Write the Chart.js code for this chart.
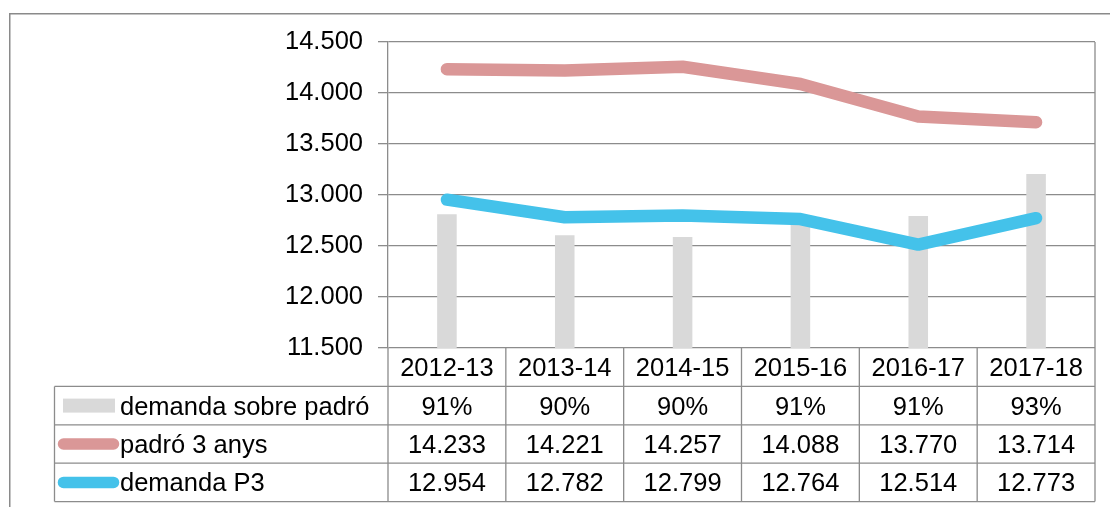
<!DOCTYPE html>
<html>
<head>
<meta charset="utf-8">
<script src="https://cdn.jsdelivr.net/npm/chart.js@4.4.1/dist/chart.umd.min.js"></script>
<style>
    html, body { margin: 0; padding: 0; background: #fff; }
    #wrap { width: 1110px; height: 507px; position: relative; }
</style>
</head>
<body>
<div id="wrap"><canvas id="chart"></canvas></div>
<script>
const categories = ['2012-13', '2013-14', '2014-15', '2015-16', '2016-17', '2017-18'];
const demandaPct = [91.0, 89.9, 89.8, 90.6, 90.9, 93.1];
const padro3 = [14233, 14221, 14257, 14088, 13770, 13714];
const demandaP3 = [12954, 12782, 12799, 12764, 12514, 12773];
const seriesNames = ['demanda sobre padró', 'padró 3 anys', 'demanda P3'];
const yMin = 11500, yMax = 14500, yStep = 500;
const pctMin = 84, pctMax = 100;

const FONT = '"Liberation Sans", Arial, sans-serif';
const FONT_SIZE = 25.5;
const GRID = '#8c8c8c';
const RED = '#da9797';
const BLUE = '#44c2ea';

function fmt(v) {
    return String(v).replace(/\B(?=(\d{3})+(?!\d))/g, '.');
}

const tablePlugin = {
    id: 'dataTable',
    afterDraw(chart) {
        const ctx = chart.ctx;
        const area = chart.chartArea;
        const xs = chart.scales.x;
        const rowH = 38.4;
        const top = area.bottom;
        const colW = (area.right - area.left) / categories.length;
        const legLeft = 54.5;

        ctx.save();
        ctx.strokeStyle = GRID;
        ctx.lineWidth = 1.3;
        ctx.beginPath();
        for (let r = 1; r <= 4; r++) {
            const y = top + r * rowH;
            ctx.moveTo(legLeft, y);
            ctx.lineTo(area.right, y);
        }
        for (let i = 0; i <= categories.length; i++) {
            const x = area.left + i * colW;
            ctx.moveTo(x, top);
            ctx.lineTo(x, top + 4 * rowH);
        }
        ctx.moveTo(legLeft, top + rowH);
        ctx.lineTo(legLeft, top + 4 * rowH);
        // right border of plot
        ctx.moveTo(area.right, area.top);
        ctx.lineTo(area.right, top);
        ctx.stroke();

        // outer frame
        ctx.strokeStyle = '#8a8a8a';
        ctx.lineWidth = 1.5;
        ctx.beginPath();
        ctx.moveTo(9.75, 507);
        ctx.lineTo(9.75, 13.75);
        ctx.lineTo(1110, 13.75);
        ctx.stroke();

        // text
        ctx.font = FONT_SIZE + 'px ' + FONT;
        ctx.fillStyle = '#000';
        ctx.textAlign = 'center';
        ctx.textBaseline = 'alphabetic';
        const rows = [
            categories,
            demandaPct.map(v => Math.round(v) + '%'),
            padro3.map(fmt),
            demandaP3.map(fmt)
        ];
        rows.forEach((row, r) => {
            const yc = top + r * rowH + rowH / 2;
            row.forEach((txt, i) => {
                ctx.fillText(txt, xs.getPixelForValue(i), yc + 9);
            });
        });

        // legend cells
        ctx.textAlign = 'left';
        seriesNames.forEach((name, k) => {
            const yc = top + (k + 1) * rowH + rowH / 2;
            if (k === 0) {
                ctx.fillStyle = '#d9d9d9';
                ctx.fillRect(63, yc - 7, 52, 14);
            } else {
                ctx.strokeStyle = k === 1 ? RED : BLUE;
                ctx.lineWidth = 11.5;
                ctx.lineCap = 'round';
                ctx.beginPath();
                ctx.moveTo(63.5, yc);
                ctx.lineTo(113.5, yc);
                ctx.stroke();
            }
            ctx.fillStyle = '#000';
            ctx.fillText(name, 120, yc + 9);
        });
        ctx.restore();
    }
};

new Chart(document.getElementById('chart'), {
    type: 'bar',
    data: {
        labels: categories,
        datasets: [
            {
                label: seriesNames[0],
                data: demandaPct,
                yAxisID: 'y2',
                backgroundColor: '#d9d9d9',
                barPercentage: 0.166,
                categoryPercentage: 1,
                order: 3
            },
            {
                type: 'line',
                label: seriesNames[1],
                data: padro3,
                yAxisID: 'y',
                borderColor: RED,
                borderWidth: 12.5,
                borderCapStyle: 'round',
                borderJoinStyle: 'round',
                pointRadius: 0,
                tension: 0,
                order: 2
            },
            {
                type: 'line',
                label: seriesNames[2],
                data: demandaP3,
                yAxisID: 'y',
                borderColor: BLUE,
                borderWidth: 12.5,
                borderCapStyle: 'round',
                borderJoinStyle: 'round',
                pointRadius: 0,
                tension: 0,
                order: 1
            }
        ]
    },
    options: {
        responsive: true,
        maintainAspectRatio: false,
        animation: false,
        layout: { padding: { left: 0, right: 15, top: 42, bottom: 0 } },
        plugins: {
            legend: { display: false },
            tooltip: { enabled: false }
        },
        scales: {
            x: {
                offset: true,
                grid: { display: false },
                border: { display: false },
                ticks: { display: false },
                afterFit(scale) { scale.height = 159; }
            },
            y: {
                min: yMin,
                max: yMax,
                ticks: {
                    stepSize: yStep,
                    padding: 15,
                    color: '#000',
                    font: { family: FONT, size: FONT_SIZE },
                    callback: v => fmt(v)
                },
                grid: { color: GRID, lineWidth: 1.3, tickLength: 10 },
                border: { color: GRID, width: 1.3 },
                afterFit(scale) { scale.width = 388; }
            },
            y2: {
                display: false,
                min: pctMin,
                max: pctMax
            }
        }
    },
    plugins: [tablePlugin]
});
</script>
</body>
</html>
